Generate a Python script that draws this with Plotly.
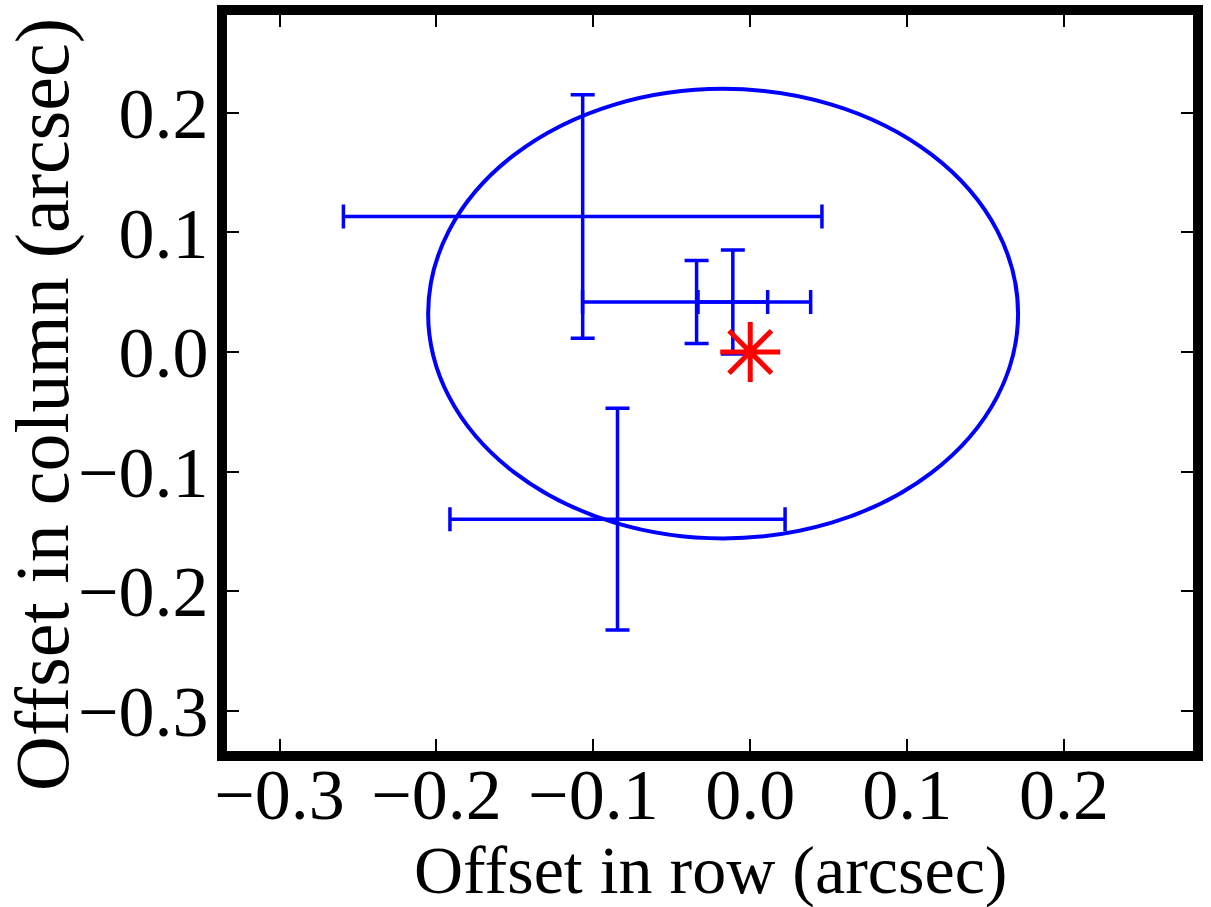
import plotly.graph_objects as go

# Measured offsets (arcsec) with 1-sigma errors
row_offset = [-0.1068, -0.0342, -0.0111, -0.0846]
row_err = [0.1525, 0.0727, 0.0222, 0.1068]
col_offset = [0.1132, 0.0417, 0.0417, -0.1399]
col_err = [0.1018, 0.0347, 0.0435, 0.0927]

# Reference position
ref_row = [0.0]
ref_col = [0.0]

# Uncertainty circle
circle_row_center = -0.0173
circle_col_center = 0.032
circle_radius_row = 0.188
circle_radius_col = 0.188

tick_vals = [-0.3, -0.2, -0.1, 0.0, 0.1, 0.2]
x_range = [-0.3335, 0.2822]
y_range = [-0.3337, 0.2817]

FONT = "Liberation Serif"

fig = go.Figure()

fig.add_trace(go.Scatter(
    x=row_offset, y=col_offset, mode="markers",
    marker=dict(size=1, color="#0000ff"),
    error_x=dict(type="data", array=row_err, visible=True, color="#0000ff",
                 thickness=3.5, width=12),
    error_y=dict(type="data", array=col_err, visible=True, color="#0000ff",
                 thickness=3.5, width=12),
    showlegend=False, hoverinfo="skip",
))

fig.add_shape(
    type="circle", xref="x", yref="y",
    x0=circle_row_center - circle_radius_row, x1=circle_row_center + circle_radius_row,
    y0=circle_col_center - circle_radius_col, y1=circle_col_center + circle_radius_col,
    line=dict(color="#0000ff", width=4), fillcolor="rgba(0,0,0,0)", layer="above",
)

fig.add_trace(go.Scatter(
    x=ref_row, y=ref_col, mode="markers",
    marker=dict(symbol="asterisk-open", size=50, color="#ff0000",
                line=dict(color="#ff0000", width=5)),
    showlegend=False, hoverinfo="skip",
))

axis_common = dict(
    showline=True, linewidth=10, linecolor="black", mirror="ticks",
    ticks="inside", ticklen=12, tickwidth=1.5, tickcolor="black",
    showgrid=False, zeroline=False, tickvals=tick_vals, tickformat=".1f",
    tickfont=dict(family=FONT, size=72, color="black"), automargin=False,
)

fig.update_layout(
    width=1211, height=907,
    margin=dict(l=227, r=18, t=15, b=156, autoexpand=False),
    paper_bgcolor="white", plot_bgcolor="white",
    xaxis=dict(range=x_range, ticklabelstandoff=-28, **axis_common),
    yaxis=dict(range=y_range, ticklabelstandoff=-6, **axis_common),
    annotations=[
        dict(text="Offset in row (arcsec)", xref="paper", yref="paper",
             x=0.5, y=0, xanchor="center", yanchor="bottom", yshift=-159,
             showarrow=False, font=dict(family=FONT, size=68, color="black")),
        dict(text="Offset in column (arcsec)", xref="paper", yref="paper",
             x=-0.1905, y=0.4715, xanchor="center", yanchor="middle", textangle=-90,
             showarrow=False, font=dict(family=FONT, size=76, color="black")),
    ],
)

fig.write_html("out.html")
